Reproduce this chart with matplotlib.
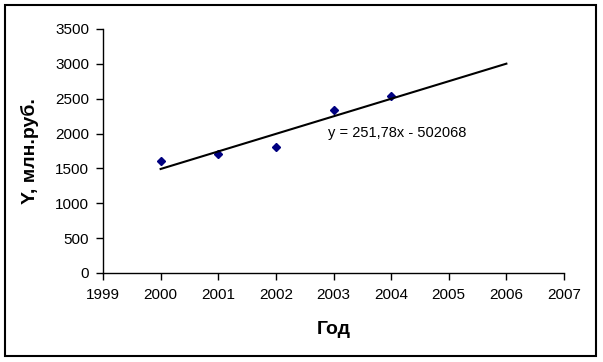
import numpy as np
from matplotlib import pyplot as plt
from matplotlib.patches import Rectangle

# data
years = [2000, 2001, 2002, 2003, 2004]
values = [1600, 1700, 1805, 2335, 2540]

# linear trend as printed on the chart, extended to 2006
slope = 251.78
intercept = -502068
trend_x = np.array([2000, 2006])
trend_label = 'y = 251,78x - 502068'

xticks = list(range(1999, 2008))
yticks = list(range(0, 3501, 500))

plt.rcParams['font.family'] = ['Liberation Sans', 'DejaVu Sans']

fig = plt.figure(figsize=(6.03, 3.62), dpi=100)
ax = fig.add_axes([103/603, 1-273/362, 461/603, 244/362])

ax.plot(years, values, linestyle='none', marker='D', markersize=4, color='#000080')
ax.plot(trend_x, slope*trend_x + intercept, color='black', linewidth=1.5)
ax.text(2002.9, 2010, trend_label, fontsize=10.5, va='center', ha='left')

ax.set_xlim(1999, 2007)
ax.set_ylim(0, 3500)
ax.set_xticks(xticks)
ax.set_yticks(yticks)
ax.tick_params(direction='out', length=5, width=1, labelsize=11)
ax.tick_params(axis='x', pad=6)
ax.tick_params(axis='y', pad=5)

for s in ('top', 'right'):
	ax.spines[s].set_visible(False)
for s in ('left', 'bottom'):
	ax.spines[s].set_linewidth(1)

ax.set_xlabel('Год', fontsize=14, fontweight='bold')
ax.set_ylabel('Y, млн.руб.', fontsize=14, fontweight='bold')
ax.xaxis.set_label_coords(0.5, (273-329)/244)
ax.yaxis.set_label_coords((30-103)/461, 0.5)
ax.xaxis.label.set_va('center')
ax.yaxis.label.set_va('center')

# chart area frame
fig.patches.append(Rectangle((5/603, 1-356/362), 591/603, 351/362, transform=fig.transFigure,
	fill=False, edgecolor='black', linewidth=1.5))

fig.savefig('out.png', dpi=100)
